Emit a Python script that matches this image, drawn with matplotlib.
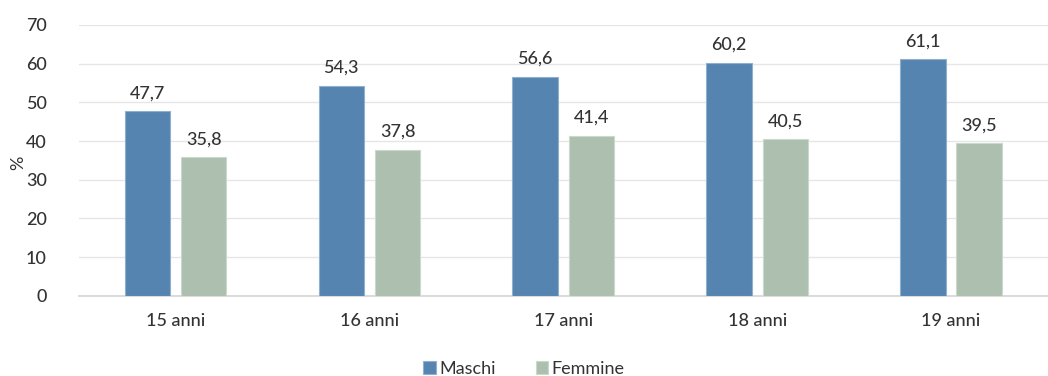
import numpy as np
import matplotlib.pyplot as plt

plt.rcParams['font.family'] = ['Lato', 'DejaVu Sans']

categorie = ['15 anni', '16 anni', '17 anni', '18 anni', '19 anni']
maschi = [47.7, 54.3, 56.6, 60.2, 61.1]
femmine = [35.8, 37.8, 41.4, 40.5, 39.5]

col_m = '#5684b0'
col_f = '#adbfaf'
testo = '#333333'

fig = plt.figure(figsize=(10.48, 3.76), dpi=100)
ax = fig.add_axes([0.075, 0.213, 0.925, 0.721])

x = np.arange(len(categorie))
w = 0.235
b1 = ax.bar(x - 0.145, maschi, w, color=col_m, edgecolor='#8fb0cf', linewidth=0.8,
            label='Maschi', zorder=3)
b2 = ax.bar(x + 0.145, femmine, w, color=col_f, edgecolor='#cbd8cc', linewidth=0.8,
            label='Femmine', zorder=3)

for bars in (b1, b2):
    for r in bars:
        v = r.get_height()
        ax.annotate(f'{v:.1f}'.replace('.', ','), (r.get_x() + r.get_width() / 2, v),
                    xytext=(0, 7), textcoords='offset points', ha='center', va='bottom',
                    fontsize=13, color=testo, fontweight='medium')

ax.set_xlim(-0.5, len(categorie) - 0.5)
ax.set_ylim(0, 70)
ax.set_yticks(range(0, 71, 10))
ax.set_xticks(x)
ax.set_xticklabels(categorie)
ax.tick_params(axis='both', length=0, labelsize=13, colors=testo)
ax.tick_params(axis='x', pad=12)
ax.tick_params(axis='y', pad=23)
for lab in ax.get_xticklabels() + ax.get_yticklabels():
    lab.set_fontweight('medium')
ax.grid(axis='y', color='#e6e6e6', linewidth=1, zorder=0)
for s in ('top', 'right', 'left'):
    ax.spines[s].set_visible(False)
ax.spines['bottom'].set_color('#d4d4d4')
ax.spines['bottom'].set_linewidth(1.2)

ax.set_ylabel('%', fontsize=13, color=testo, va='center')
ax.yaxis.set_label_coords(-0.062, 0.49)

leg = fig.legend(loc='lower center', bbox_to_anchor=(0.5, -0.045), ncol=2, frameon=False,
                 fontsize=13, handlelength=0.7, handleheight=0.7, handletextpad=0.2,
                 columnspacing=2.2, labelcolor=testo)

fig.savefig('out.png', dpi=100)
